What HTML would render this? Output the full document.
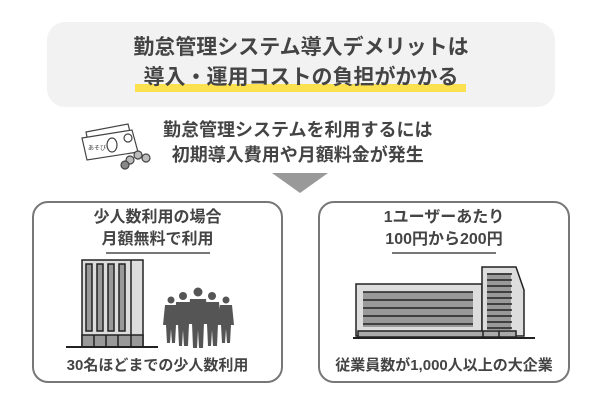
<!DOCTYPE html>
<html><head><meta charset="utf-8"><style>
body{margin:0;width:600px;height:400px;background:#fff;position:relative;overflow:hidden;font-family:"Liberation Sans","Noto Sans CJK JP",sans-serif;font-weight:bold;color:#444}
.a{position:absolute}
.t{position:absolute;text-align:center;white-space:nowrap}
</style></head><body>
<div class="a" style="left:47px;top:22px;width:508px;height:85px;background:#f2f2f2;border-radius:18px"></div>
<div class="a" style="left:135px;top:84px;width:331px;height:8px;background:#fbe04f"></div>
<div class="t" style="left:47px;width:508px;top:33px;font-size:21px;line-height:30px;color:#444">勤怠管理システム導入デメリットは<br>導入・運用コストの負担がかかる</div>
<svg class="a" style="left:78px;top:122px" width="80" height="50" viewBox="0 0 80 50">
<g fill="#fff" stroke="#444" stroke-width="1.2">
<path d="M8 10 L50 2 L55 22 L12 30Z"/>
<path d="M4 16 L54 8 L60 30 L9 38Z"/>
<ellipse cx="34" cy="23" rx="5" ry="7"/>
<circle cx="50" cy="16" r="4"/>
<circle cx="52" cy="38" r="4" fill="#bbb"/><circle cx="60" cy="33" r="4" fill="#bbb"/>
<circle cx="47" cy="43" r="4" fill="#888"/><circle cx="68" cy="36" r="4" fill="#bbb"/>
</g>
<text x="10" y="28" font-size="6" fill="#444" font-weight="normal">あそび</text>
</svg>
<div class="t" style="left:163px;top:118px;font-size:18px;line-height:25px;color:#444">勤怠管理システムを利用するには<br>初期導入費用や月額料金が発生</div>
<svg class="a" style="left:272px;top:173px" width="56" height="20"><polygon points="0,0 56,0 28,20" fill="#999"/></svg>

<div class="a" style="left:32px;top:201px;width:251px;height:182px;border:2px solid #777;border-radius:16px;box-sizing:border-box"></div>
<div class="a" style="left:318px;top:201px;width:252px;height:182px;border:2px solid #777;border-radius:16px;box-sizing:border-box"></div>
<div class="t" style="left:32px;width:251px;top:207px;font-size:16px;line-height:22px">少人数利用の場合<br>月額無料で利用</div>
<div class="a" style="left:106px;top:252px;width:104px;height:2px;background:#777"></div>
<div class="t" style="left:318px;width:252px;top:207px;font-size:16px;line-height:22px">1ユーザーあたり<br>100円から200円</div>
<div class="a" style="left:392px;top:252px;width:104px;height:2px;background:#777"></div>
<div class="t" style="left:32px;width:251px;top:354px;font-size:15px">30名ほどまでの少人数利用</div>
<div class="t" style="left:318px;width:252px;top:354px;font-size:15px">従業員数が1,000人以上の大企業</div>

<svg class="a" style="left:0;top:0" width="600" height="400">
<g stroke="#222" stroke-width="1.5">
<rect x="82" y="260" width="61" height="87" fill="#ddd"/>
<rect x="82" y="335" width="61" height="12" fill="#999"/>
<line x1="94" y1="335" x2="94" y2="347"/><line x1="106" y1="335" x2="106" y2="347"/><line x1="118" y1="335" x2="118" y2="347"/><line x1="131" y1="335" x2="131" y2="347"/>
<line x1="131" y1="260" x2="131" y2="335"/>
<rect x="86" y="264" width="6" height="67" fill="#999"/><rect x="97" y="264" width="6" height="67" fill="#999"/><rect x="108" y="264" width="6" height="67" fill="#999"/><rect x="119" y="264" width="6" height="67" fill="#999"/>
<line x1="66" y1="347" x2="158" y2="347" stroke-width="2"/>
</g>
<g fill="#555">
<circle cx="198" cy="292" r="4.5"/><path d="M190 299 h16 l2 24 h-4 l-1 25 h-4 l-1-18 -1 18 h-4 l-1-25 h-4z"/>
<circle cx="183" cy="296" r="4"/><path d="M176 302 h14 l2 22 h-3 l-1 22 h-4 l-1-16 -1 16 h-3 l-1-22 h-3z"/>
<circle cx="212" cy="296" r="4"/><path d="M205 302 h14 l2 22 h-3 l-1 22 h-4 l-1-16 -1 16 h-3 l-1-22 h-3z"/>
<circle cx="171" cy="300" r="3.5"/><path d="M165 305 h12 l2 20 h-3 l-1 18 h-3 l-1-14 -1 14 h-3 l-1-18 h-3z"/>
<circle cx="226" cy="300" r="3.5"/><path d="M220 305 h12 l2 20 h-3 l-1 18 h-3 l-1-14 -1 14 h-3 l-1-18 h-3z"/>
</g>
<g stroke="#222" stroke-width="1.5">
<rect x="356" y="284" width="126" height="52" fill="#ddd"/>
<path d="M482 336 V267 H516 L524 290 V336Z" fill="#ddd"/>
<rect x="363" y="292" width="110" height="35" fill="#999" stroke="none"/>
<rect x="487" y="273" width="24" height="57" fill="#999" stroke="none"/>
<line x1="363" y1="292" x2="473" y2="292"/><line x1="363" y1="300" x2="473" y2="300"/><line x1="363" y1="308" x2="473" y2="308"/><line x1="363" y1="316" x2="473" y2="316"/><line x1="363" y1="324" x2="473" y2="324"/>
<line x1="487" y1="274" x2="512" y2="274"/><line x1="487" y1="280" x2="512" y2="280"/><line x1="487" y1="286" x2="512" y2="286"/><line x1="487" y1="292" x2="512" y2="292"/><line x1="487" y1="298" x2="512" y2="298"/><line x1="487" y1="304" x2="512" y2="304"/><line x1="487" y1="310" x2="512" y2="310"/><line x1="487" y1="316" x2="512" y2="316"/><line x1="487" y1="322" x2="512" y2="322"/><line x1="487" y1="328" x2="512" y2="328"/>
<rect x="358" y="331" width="158" height="6" fill="#aaa"/>
<line x1="483" y1="331" x2="483" y2="337"/><line x1="499" y1="331" x2="499" y2="337"/>
<line x1="353" y1="338" x2="535" y2="338" stroke-width="2"/>
</g>
</svg>
</body></html>
